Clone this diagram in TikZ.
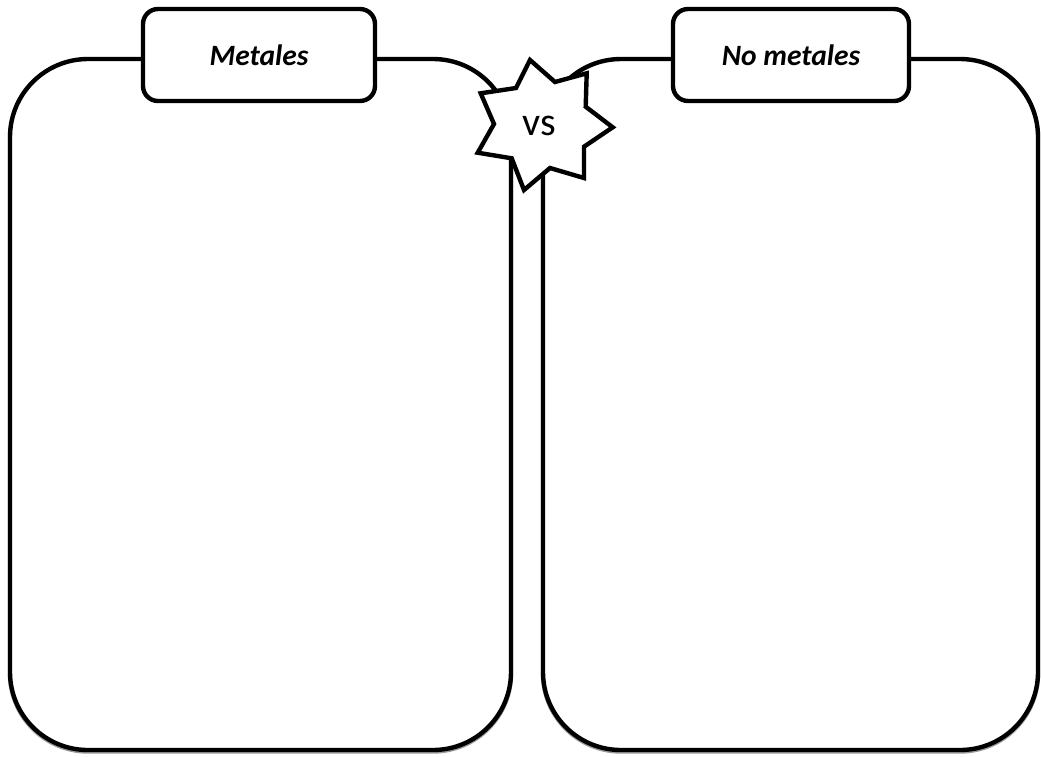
\documentclass[tikz,border=0pt]{standalone}
\usepackage{fontspec}
\setmainfont{Carlito}
\begin{document}
\begin{tikzpicture}[x=1pt,y=-1pt,
  panel/.style={draw=black, fill=white, line width=4.4pt, rounded corners=78pt,
    inner sep=0pt, outer sep=0pt},
  panelshadow/.style={fill=none, draw=black!40, line width=4.4pt, rounded corners=78pt},
  tab/.style={draw=black, fill=white, line width=4.4pt, rounded corners=15pt,
    inner sep=0pt, outer sep=0pt, minimum height=92pt,
    font=\fontsize{29.5}{34}\selectfont\bfseries\itshape},
  starline/.style={draw=black, fill=white, line width=4.4pt, line join=miter},
  vslabel/.style={inner sep=0pt, font=\fontsize{40}{46}\selectfont}]
\useasboundingbox (0,0) rectangle (1041,756);

% soft shadow under the two panels
\draw[panelshadow] (10,61) rectangle (511,751.5);
\draw[panelshadow] (543,61) rectangle (1038,751.5);

% the two panels
\node[panel, minimum width=501pt, minimum height=691pt] (metals) at (260.5,404.5) {};
\node[panel, minimum width=495pt, minimum height=691pt] (nonmetals) at (790.5,404.5) {};

% header tabs
\node[tab, minimum width=232pt] (metalstab) at (259,55) {Metales};
\node[tab, minimum width=236pt] (nonmetalstab) at (791,55) {No metales};

% seven-pointed badge between the panels
\draw[starline] (530,60) -- (555,82) -- (586.7,73.3) -- (585.7,106.7)
  -- (612.7,127.3) -- (584,146.7) -- (584,178) -- (550,168) -- (524,190)
  -- (511.7,158.3) -- (477.7,152.7) -- (494,124) -- (480.7,93.3) -- (516,88) -- cycle;
\node[vslabel, anchor=base] (vs) at (539.5,135) {vs};
\end{tikzpicture}
\end{document}
